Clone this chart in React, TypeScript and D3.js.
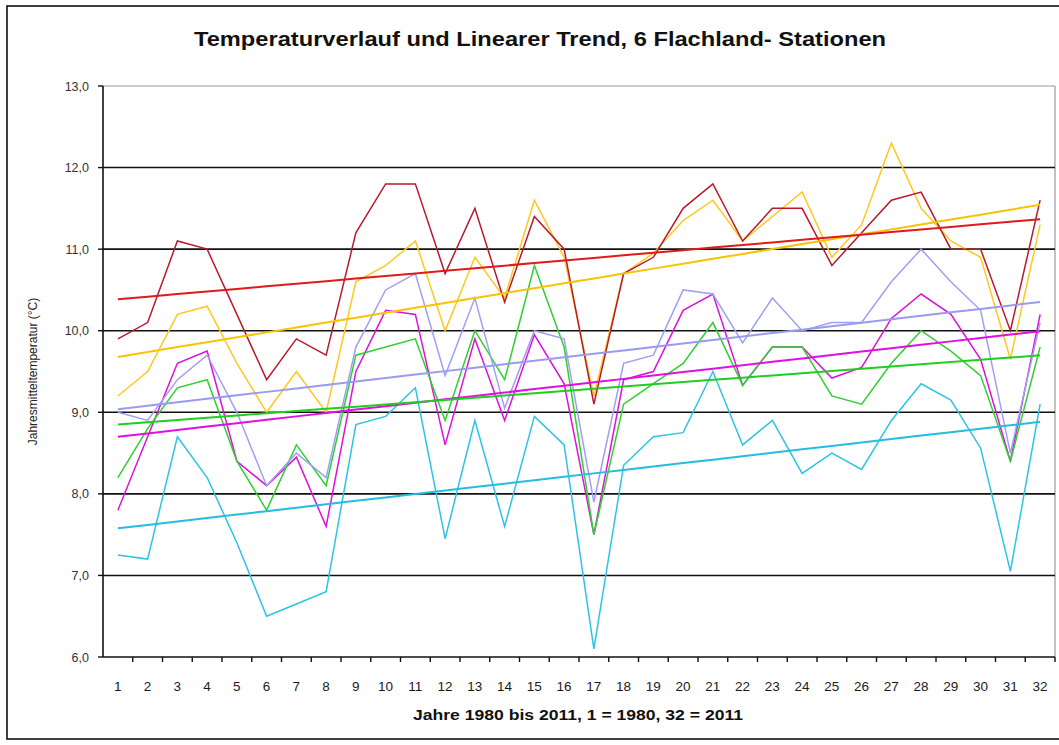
import React from 'react';
import * as d3 from 'd3';

// Jahre 1..32 (1980..2011)
const years = d3.range(1, 33);
const yTicks = [6, 7, 8, 9, 10, 11, 12, 13];

// Jahresmittel der 6 Stationen
const station1 = [9.9, 10.1, 11.1, 11.0, 10.2, 9.4, 9.9, 9.7, 11.2, 11.8, 11.8, 10.7, 11.5, 10.35, 11.4, 11.0, 9.1, 10.7, 10.9, 11.5, 11.8, 11.1, 11.5, 11.5, 10.8, 11.2, 11.6, 11.7, 11.0, 11.0, 10.0, 11.6];
const station2 = [9.2, 9.5, 10.2, 10.3, 9.6, 9.0, 9.5, 9.0, 10.6, 10.8, 11.1, 10.0, 10.9, 10.4, 11.6, 10.9, 9.2, 10.7, 10.95, 11.35, 11.6, 11.1, 11.4, 11.7, 10.9, 11.3, 12.3, 11.5, 11.1, 10.9, 9.65, 11.3];
const station3 = [9.0, 8.9, 9.4, 9.7, 9.0, 8.1, 8.5, 8.2, 9.8, 10.5, 10.7, 9.45, 10.4, 9.05, 10.0, 9.9, 7.9, 9.6, 9.7, 10.5, 10.45, 9.85, 10.4, 10.0, 10.1, 10.1, 10.6, 11.0, 10.6, 10.25, 8.5, 10.1];
const station4 = [7.8, 8.7, 9.6, 9.75, 8.4, 8.1, 8.45, 7.6, 9.5, 10.25, 10.2, 8.6, 9.9, 8.9, 9.95, 9.35, 7.5, 9.4, 9.5, 10.25, 10.45, 9.33, 9.8, 9.8, 9.42, 9.55, 10.15, 10.45, 10.2, 9.65, 8.4, 10.2];
const station5 = [8.2, 8.8, 9.3, 9.4, 8.4, 7.8, 8.6, 8.1, 9.7, 9.8, 9.9, 8.9, 10.0, 9.4, 10.8, 9.8, 7.5, 9.1, 9.35, 9.6, 10.1, 9.33, 9.8, 9.8, 9.2, 9.1, 9.6, 10.0, 9.75, 9.45, 8.4, 9.8];
const station6 = [7.25, 7.2, 8.7, 8.2, 7.4, 6.5, 6.65, 6.8, 8.85, 8.95, 9.3, 7.45, 8.9, 7.6, 8.95, 8.6, 6.1, 8.35, 8.7, 8.75, 9.5, 8.6, 8.9, 8.25, 8.5, 8.3, 8.9, 9.35, 9.15, 8.56, 7.05, 9.1];

const stationData = [station6, station4, station5, station3, station2, station1];
const lineColors = ['#2cc4e4', '#dd11dd', '#2fd02f', '#9f9ff5', '#ffc820', '#b81a2c'];
const trendColors = ['#26bce0', '#e010e0', '#22cc22', '#9a9af0', '#f8c400', '#e01a1a'];

// lineare Regression
const trend = (vals) => {
  const mx = d3.mean(years);
  const my = d3.mean(vals);
  let sxy = 0, sxx = 0;
  years.forEach((x, i) => {
    sxy += (x - mx) * (vals[i] - my);
    sxx += (x - mx) * (x - mx);
  });
  const b = sxy / sxx;
  return years.map(x => my + b * (x - mx));
};

const App = () => {
  const W = 1059, H = 745;
  const plot = { left: 103, right: 1055, top: 86, bottom: 657 };

  const x = d3.scaleBand<number>()
    .domain(years)
    .range([plot.left, plot.right]);

  const y = d3.scaleLinear()
    .domain([6, 13])
    .range([plot.bottom, plot.top]);

  const cx = (d) => x(d) + x.bandwidth() / 2;

  const line = d3.line<number>()
    .x((d, i) => cx(years[i]))
    .y(d => y(d));

  const font = 'Arial, "Liberation Sans", sans-serif';

  return (
    <svg width={W} height={H} style={{ position: 'absolute', left: 0, top: 0, background: '#fff' }}>
      <rect x={7} y={6} width={1080} height={733} fill="#fff" stroke="#111" strokeWidth={1.6} />

      <text x={540} y={46} textAnchor="middle" fontFamily={font} fontWeight="bold" fontSize={21}
        textLength={692} lengthAdjust="spacingAndGlyphs" fill="#111">
        Temperaturverlauf und Linearer Trend, 6 Flachland- Stationen
      </text>

      {/* plot border */}
      <line x1={plot.left} x2={plot.right} y1={plot.top} y2={plot.top} stroke="#999" strokeWidth={1.2} />
      <line x1={plot.right} x2={plot.right} y1={plot.top} y2={plot.bottom} stroke="#999" strokeWidth={1.2} />

      {/* grid */}
      {yTicks.filter(t => t > 6 && t < 13).map(t => (
        <line key={t} x1={plot.left} x2={plot.right} y1={y(t)} y2={y(t)} stroke="#111" strokeWidth={1.6} />
      ))}

      {/* y axis */}
      <line x1={plot.left} x2={plot.left} y1={plot.top} y2={plot.bottom} stroke="#111" strokeWidth={1.6} />
      {yTicks.map(t => (
        <g key={t}>
          <line x1={plot.left - 5} x2={plot.left} y1={y(t)} y2={y(t)} stroke="#111" strokeWidth={1.4} />
          <text x={plot.left - 14} y={y(t) + 4.5} textAnchor="end" fontFamily={font} fontSize={12.5} fill="#333">
            {d3.format('.1f')(t).replace('.', ',')}
          </text>
        </g>
      ))}

      {/* x axis */}
      <line x1={plot.left} x2={plot.right} y1={plot.bottom} y2={plot.bottom} stroke="#111" strokeWidth={1.6} />
      {years.map(d => (
        <line key={'t' + d} x1={x(d) + x.bandwidth()} x2={x(d) + x.bandwidth()} y1={plot.bottom} y2={plot.bottom + 5}
          stroke="#111" strokeWidth={1.4} />
      ))}
      {years.map(d => (
        <text key={'l' + d} x={cx(d)} y={691} textAnchor="middle" fontFamily={font} fontSize={13.5} fill="#1a1a1a">
          {d}
        </text>
      ))}

      <text x={578} y={720} textAnchor="middle" fontFamily={font} fontWeight="bold" fontSize={14}
        textLength={330} lengthAdjust="spacingAndGlyphs" fill="#111">
        Jahre 1980 bis 2011, 1 = 1980, 32 = 2011
      </text>

      <text transform={`translate(37, ${(plot.top + plot.bottom) / 2}) rotate(-90)`} textAnchor="middle"
        fontFamily={font} fontSize={12} fill="#222">
        Jahresmitteltemperatur (°C)
      </text>

      {/* series */}
      {stationData.map((s, i) => (
        <path key={'s' + i} d={line(s)} fill="none" stroke={lineColors[i]} strokeWidth={1.5} />
      ))}
      {/* trends */}
      {stationData.map((s, i) => (
        <path key={'r' + i} d={line(trend(s))} fill="none" stroke={trendColors[i]} strokeWidth={2} />
      ))}
    </svg>
  );
};

export default App;
